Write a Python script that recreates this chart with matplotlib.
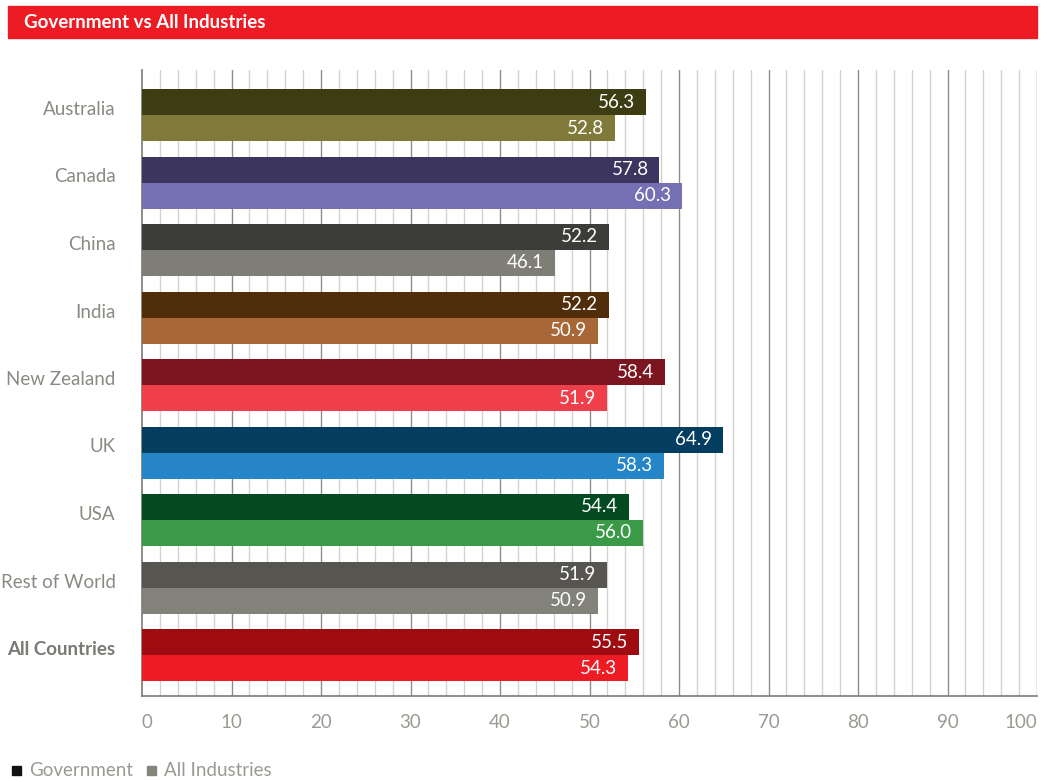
import numpy as np
import matplotlib.pyplot as plt
import matplotlib.transforms as mtransforms
from matplotlib.patches import Rectangle

plt.rcParams['font.family'] = ['Lato', 'DejaVu Sans']

countries = ['Australia', 'Canada', 'China', 'India', 'New Zealand', 'UK', 'USA',
             'Rest of World', 'All Countries']
government = [56.3, 57.8, 52.2, 52.2, 58.4, 64.9, 54.4, 51.9, 55.5]
all_industries = [52.8, 60.3, 46.1, 50.9, 51.9, 58.3, 56.0, 50.9, 54.3]
gov_colors = ['#3d3d14', '#3b3560', '#3c3c38', '#512e0b', '#7b1520', '#033d60',
              '#044a20', '#57554f', '#9e0b11']
ind_colors = ['#7f7a3a', '#7570b3', '#7f7e76', '#a86736', '#ee3f4b', '#2585c7',
              '#3a9a48', '#82827a', '#ed1c24']
xticks = list(range(0, 101, 10))

fig = plt.figure(figsize=(10.51, 7.82), dpi=100)
ax = fig.add_axes([142 / 1051, 1 - 696 / 782, 895 / 1051, 626 / 782])

# title banner
fig.patches.append(Rectangle((8 / 1051, 1 - 38 / 782), 1029 / 1051, 32 / 782,
                             transform=fig.transFigure, color='#ed1c24', zorder=0))
fig.text(24 / 1051, 1 - 22 / 782, 'Government vs All Industries', color='white',
         fontsize=13.5, fontweight='bold', va='center', ha='left')

h = 26 / 67.5
y = np.arange(len(countries))
ax.barh(y - h / 2, government, height=h, color=gov_colors, zorder=3)
ax.barh(y + h / 2, all_industries, height=h, color=ind_colors, zorder=3)

for i in range(len(countries)):
    ax.text(government[i] - 1.2, y[i] - h / 2, f'{government[i]:.1f}', color='white',
            fontsize=13.5, ha='right', va='center', zorder=4)
    ax.text(all_industries[i] - 1.2, y[i] + h / 2, f'{all_industries[i]:.1f}', color='white',
            fontsize=13.5, ha='right', va='center', zorder=4)

ax.set_xlim(0, 100)
ax.set_ylim((696 - 115) / 67.5, (70 - 115) / 67.5)

# minor and major vertical grid
for v in range(2, 101, 2):
    if v % 10 == 0:
        ax.axvline(v, color='#8e8e86', lw=1.0, zorder=1)
    else:
        ax.axvline(v, color='#d2d2cc', lw=1.0, zorder=1)

for s in ['top', 'right']:
    ax.spines[s].set_visible(False)
for s in ['left', 'bottom']:
    ax.spines[s].set_color('#7a7a72')
    ax.spines[s].set_linewidth(1.2)

ax.set_xticks(xticks)
ax.set_xticklabels([str(t) for t in xticks], fontsize=13.5, color='#9a9a94')
ax.tick_params(axis='x', length=0, pad=13)
xl = ax.get_xticklabels()
xl[0].set_ha('left')
xl[-1].set_ha('right')

ax.set_yticks(y)
ax.set_yticklabels(countries, fontsize=13.5, color='#8a8a84')
ax.tick_params(axis='y', length=0, pad=19)
shift = mtransforms.ScaledTranslation(0, 7 / 100, fig.dpi_scale_trans)
for lbl in ax.get_yticklabels():
    lbl.set_transform(lbl.get_transform() + shift)
lbl = ax.get_yticklabels()[-1]
lbl.set_fontweight('bold')
lbl.set_color('#7a7a74')

# legend
fig.patches.append(Rectangle((12 / 1051, 1 - 775 / 782), 9 / 1051, 9 / 782,
                             transform=fig.transFigure, color='#111111'))
fig.text(29 / 1051, 1 - 770 / 782, 'Government', color='#9a9a94', fontsize=13.5,
         va='center')
fig.patches.append(Rectangle((147 / 1051, 1 - 775 / 782), 9 / 1051, 9 / 782,
                             transform=fig.transFigure, color='#85857d'))
fig.text(164 / 1051, 1 - 770 / 782, 'All Industries', color='#9a9a94', fontsize=13.5,
         va='center')

fig.savefig('out.png', dpi=100)
